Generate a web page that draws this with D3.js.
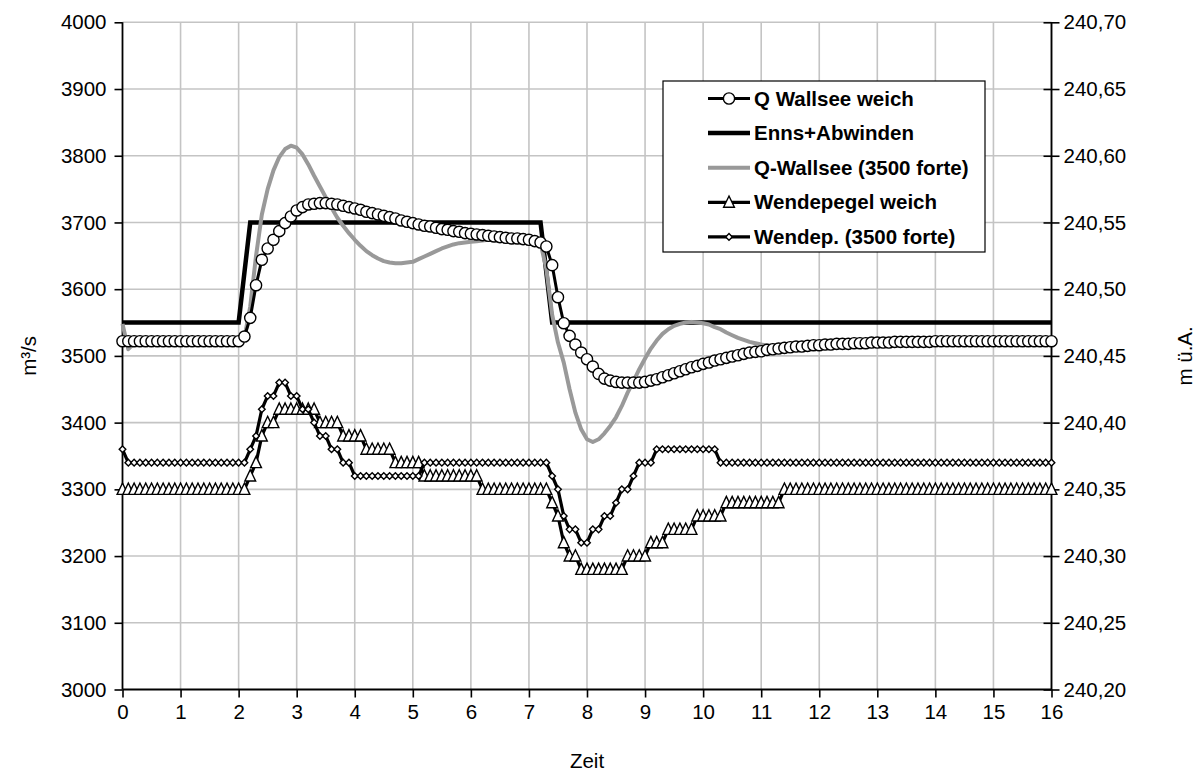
<!DOCTYPE html>
<html>
<head>
<meta charset="utf-8">
<script src="https://cdn.jsdelivr.net/npm/d3@7"></script>
<style>
  html, body { margin: 0; padding: 0; background: #fff; }
  svg { display: block; }
  text { font-family: "Liberation Sans", Arial, sans-serif; }
</style>
</head>
<body>
<div id="chart"></div>
<script>
// ---------------- DATA ----------------
const zeit = [0,0.1,0.2,0.3,0.4,0.5,0.6,0.7,0.8,0.9,1,1.1,1.2,1.3,1.4,1.5,1.6,1.7,1.8,1.9,
  2,2.1,2.2,2.3,2.4,2.5,2.6,2.7,2.8,2.9,3,3.1,3.2,3.3,3.4,3.5,3.6,3.7,3.8,3.9,
  4,4.1,4.2,4.3,4.4,4.5,4.6,4.7,4.8,4.9,5,5.1,5.2,5.3,5.4,5.5,5.6,5.7,5.8,5.9,
  6,6.1,6.2,6.3,6.4,6.5,6.6,6.7,6.8,6.9,7,7.1,7.2,7.3,7.4,7.5,7.6,7.7,7.8,7.9,
  8,8.1,8.2,8.3,8.4,8.5,8.6,8.7,8.8,8.9,9,9.1,9.2,9.3,9.4,9.5,9.6,9.7,9.8,9.9,
  10,10.1,10.2,10.3,10.4,10.5,10.6,10.7,10.8,10.9,11,11.1,11.2,11.3,11.4,11.5,11.6,11.7,11.8,11.9,
  12,12.1,12.2,12.3,12.4,12.5,12.6,12.7,12.8,12.9,13,13.1,13.2,13.3,13.4,13.5,13.6,13.7,13.8,13.9,
  14,14.1,14.2,14.3,14.4,14.5,14.6,14.7,14.8,14.9,15,15.1,15.2,15.3,15.4,15.5,15.6,15.7,15.8,15.9,16];

// Q Wallsee weich (m³/s)
const qWallseeWeich = [
  3522,3522,3522,3522,3522,3522,3522,3522,3522,3522,3522,3522,3522,3522,3522,3522,3522,3522,3522,3522,3522,
  3529,3557,3606,3644,3661,3674,3687,3699,3709,3718,
  3723,3727,3728,3729,3729,3728,3727,3725,3723,3721,
  3719,3716,3714,3712,3710,3708,3706,3703,3701,3699,
  3697,3695,3694,3692,3690,3689,3687,3686,3684,3683,
  3682,3681,3680,3679,3678,3677,3676,3676,3675,3674,
  3672,3670,3664,3636,3588,3549,3530,3517,3505,3495,
  3484,3473,3466,3463,3461,3460,3460,3460,3460,3461,
  3463,3465,3468,3471,3474,3477,3480,3483,3485,3488,
  3490,3493,3495,3497,3499,3501,3503,3505,3506,3507,
  3509,3510,3511,3512,3513,3514,3514,3515,3516,3516,
  3517,3517,3518,3518,3518,3519,3519,3519,3520,3520,
  3520,3520,3521,3521,3521,3521,3521,3521,3521,3522,
  3522,3522,3522,3522,3522,3522,3522,3522,3522,3522,3522,3522,3522,3522,3522,3522,3522,3522,3522,3522];

// Enns+Abwinden (m³/s)
const ennsAbwinden = [
  3550,3550,3550,3550,3550,3550,3550,3550,3550,3550,3550,3550,3550,3550,3550,3550,3550,3550,3550,3550,3550,
  3625,
  3700,3700,3700,3700,3700,3700,3700,3700,3700,3700,3700,3700,3700,3700,3700,3700,3700,3700,3700,3700,
  3700,3700,3700,3700,3700,3700,3700,3700,3700,3700,3700,3700,3700,3700,3700,3700,3700,3700,3700,3700,
  3700,3700,3700,3700,3700,3700,3700,3700,3700,3700,3700,
  3625,
  3550,3550,3550,3550,3550,3550,3550,3550,3550,3550,3550,3550,3550,3550,3550,3550,3550,3550,3550,3550,
  3550,3550,3550,3550,3550,3550,3550,3550,3550,3550,3550,3550,3550,3550,3550,3550,3550,3550,3550,3550,
  3550,3550,3550,3550,3550,3550,3550,3550,3550,3550,3550,3550,3550,3550,3550,3550,3550,3550,3550,3550,
  3550,3550,3550,3550,3550,3550,3550,3550,3550,3550,3550,3550,3550,3550,3550,3550,3550,3550,3550,3550,
  3550,3550,3550,3550,3550,3550,3550];

// Q-Wallsee (3500 forte) (m³/s)
const qWallseeForte = [
  3548,3510,3519,3522,3522,3522,3522,3522,3522,3522,3522,3522,3522,3522,3522,3522,3522,3522,3522,3522,3522,
  3527,3574,3650,3712,3750,3778,3798,3810,3815,3812,
  3802,3787,3770,3754,3738,3722,3707,3695,3684,3674,
  3665,3657,3651,3646,3642,3640,3639,3639,3640,3641,
  3645,3649,3653,3657,3661,3664,3667,3669,3670,3671,
  3672,3673,3674,3674,3674,3674,3674,3673,3673,3672,
  3671,3669,3630,3562,3520,3490,3450,3415,3390,3375,
  3371,3375,3384,3395,3408,3425,3445,3462,3480,3496,
  3511,3523,3533,3540,3545,3548,3550,3551,3550,3549,
  3547,3543,3540,3535,3531,3527,3524,3521,3519,3517,
  3516,3515,3514,3514,3514,3515,3515,3515,3516,3516,
  3517,3517,3518,3518,3518,3519,3519,3519,3520,3520,
  3520,3520,3521,3521,3521,3521,3521,3521,3521,3522,
  3522,3522,3522,3522,3522,3522,3522,3522,3522,3522,3522,3522,3522,3522,3522,3522,3522,3522,3522,3522];

// Wendepegel weich (m ü.A., secondary axis)
const wendepegelWeich = [
  240.35,240.35,240.35,240.35,240.35,240.35,240.35,240.35,240.35,240.35,240.35,
  240.35,240.35,240.35,240.35,240.35,240.35,240.35,240.35,240.35,240.35,240.35,
  240.36,240.37,240.39,240.40,240.40,
  240.41,240.41,240.41,240.41,240.41,240.41,240.41,
  240.40,240.40,240.40,240.40,
  240.39,240.39,240.39,240.39,
  240.38,240.38,240.38,240.38,240.38,
  240.37,240.37,240.37,240.37,240.37,
  240.36,240.36,240.36,240.36,240.36,240.36,240.36,240.36,240.36,240.36,
  240.35,240.35,240.35,240.35,240.35,240.35,240.35,240.35,240.35,240.35,240.35,240.35,
  240.34,240.33,240.31,240.30,240.30,
  240.29,240.29,240.29,240.29,240.29,240.29,240.29,240.29,
  240.30,240.30,240.30,240.30,
  240.31,240.31,240.31,
  240.32,240.32,240.32,240.32,240.32,
  240.33,240.33,240.33,240.33,240.33,
  240.34,240.34,240.34,240.34,240.34,240.34,240.34,240.34,240.34,240.34,
  240.35,240.35,240.35,240.35,240.35,240.35,240.35,240.35,240.35,240.35,
  240.35,240.35,240.35,240.35,240.35,240.35,240.35,240.35,240.35,240.35,
  240.35,240.35,240.35,240.35,240.35,240.35,240.35,240.35,240.35,240.35,
  240.35,240.35,240.35,240.35,240.35,240.35,240.35,240.35,240.35,240.35,
  240.35,240.35,240.35,240.35,240.35,240.35,240.35];

// Wendep. (3500 forte) (m ü.A., secondary axis)
const wendepForte = [
  240.38,
  240.37,240.37,240.37,240.37,240.37,240.37,240.37,240.37,240.37,240.37,
  240.37,240.37,240.37,240.37,240.37,240.37,240.37,240.37,240.37,240.37,240.37,
  240.38,240.39,240.41,240.42,240.42,240.43,240.43,240.42,240.42,240.41,
  240.41,240.40,240.39,240.39,240.38,240.38,240.37,240.37,
  240.36,240.36,240.36,240.36,240.36,240.36,240.36,240.36,240.36,240.36,240.36,240.36,
  240.37,240.37,240.37,240.37,240.37,240.37,240.37,240.37,240.37,240.37,240.37,
  240.37,240.37,240.37,240.37,240.37,240.37,240.37,240.37,240.37,240.37,240.37,
  240.36,240.35,240.33,240.32,240.32,240.31,240.31,240.32,240.32,240.33,
  240.33,240.34,240.35,240.35,240.36,
  240.37,240.37,240.37,
  240.38,240.38,240.38,240.38,240.38,240.38,240.38,240.38,240.38,240.38,240.38,
  240.37,240.37,240.37,240.37,240.37,240.37,240.37,240.37,240.37,240.37,
  240.37,240.37,240.37,240.37,240.37,240.37,240.37,240.37,240.37,240.37,
  240.37,240.37,240.37,240.37,240.37,240.37,240.37,240.37,240.37,240.37,
  240.37,240.37,240.37,240.37,240.37,240.37,240.37,240.37,240.37,240.37,
  240.37,240.37,240.37,240.37,240.37,240.37,240.37,240.37,240.37,240.37,
  240.37,240.37,240.37,240.37,240.37,240.37,240.37,240.37];

const xTicks = [0,1,2,3,4,5,6,7,8,9,10,11,12,13,14,15,16];
const yTicks = [3000,3100,3200,3300,3400,3500,3600,3700,3800,3900,4000];
const y2Ticks = [240.20,240.25,240.30,240.35,240.40,240.45,240.50,240.55,240.60,240.65,240.70];
const legendLabels = ["Q Wallsee weich","Enns+Abwinden","Q-Wallsee (3500 forte)","Wendepegel weich","Wendep. (3500 forte)"];
const xTitle = "Zeit", yTitle = "m³/s", y2Title = "m ü.A.";

// ---------------- CHART ----------------
const W = 1201, H = 776;
const FS = 20.5;
const plot = { left: 122.5, right: 1051.5, top: 22.3, bottom: 689.5 };

const svg = d3.select("#chart").append("svg").attr("width", W).attr("height", H);

const x = d3.scaleLinear().domain([0, 16]).range([plot.left, plot.right]);
const y = d3.scaleLinear().domain([3000, 4000]).range([plot.bottom, plot.top]);
const y2 = d3.scaleLinear().domain([240.20, 240.70]).range([plot.bottom, plot.top]);

// gridlines
const grid = svg.append("g");
grid.selectAll("line.v").data(xTicks.slice(1)).join("line")
  .attr("x1", d => x(d)).attr("x2", d => x(d))
  .attr("y1", plot.top).attr("y2", plot.bottom)
  .attr("stroke", "#c4c4c4").attr("stroke-width", 1.6);
grid.selectAll("line.h").data(yTicks.slice(1)).join("line")
  .attr("x1", plot.left).attr("x2", plot.right)
  .attr("y1", d => y(d)).attr("y2", d => y(d))
  .attr("stroke", "#c4c4c4").attr("stroke-width", 1.6);

const fmtComma = d => d3.format(".2f")(d).replace(".", ",");

// axes
const axL = svg.append("g").attr("transform", `translate(${plot.left},0)`)
  .call(d3.axisLeft(y).tickValues(yTicks).tickSize(8).tickPadding(8).tickFormat(d3.format("d")));
const axR = svg.append("g").attr("transform", `translate(${plot.right},0)`)
  .call(d3.axisRight(y2).tickValues(y2Ticks).tickSize(8).tickPadding(4).tickFormat(fmtComma));
axR.selectAll(".tick line").attr("x1", -8).attr("x2", 8);
const axB = svg.append("g").attr("transform", `translate(0,${plot.bottom})`)
  .call(d3.axisBottom(x).tickValues(xTicks).tickSize(8).tickPadding(7).tickFormat(d3.format("d")));

[axL, axR, axB].forEach(a => {
  a.select(".domain").attr("stroke", "#000").attr("stroke-width", 1.8);
  a.selectAll(".tick line").attr("stroke", "#000").attr("stroke-width", 1.6);
  a.selectAll(".tick text").attr("font-size", FS).attr("fill", "#000")
    .attr("font-family", '"Liberation Sans", Arial, sans-serif');
});
axL.select(".domain").attr("d", `M0,${plot.top}V${plot.bottom}`);
axR.select(".domain").attr("d", `M0,${plot.top}V${plot.bottom}`);
axB.select(".domain").attr("d", `M${plot.left},0H${plot.right}`);

// axis titles
svg.append("text").attr("x", (plot.left + plot.right) / 2).attr("y", 768)
  .attr("text-anchor", "middle").attr("font-size", FS).text(xTitle);
svg.append("text").attr("transform", `translate(36,${(plot.top + plot.bottom) / 2}) rotate(-90)`)
  .attr("text-anchor", "middle").attr("font-size", FS).text(yTitle);
svg.append("text").attr("transform", `translate(1192,${(plot.top + plot.bottom) / 2}) rotate(-90)`)
  .attr("text-anchor", "middle").attr("font-size", FS).text(y2Title);

// series
const lineL = vals => d3.line().x((d, i) => x(zeit[i])).y(d => y(d))(vals);
const lineR = vals => d3.line().x((d, i) => x(zeit[i])).y(d => y2(d))(vals);

const gS = svg.append("g");
gS.append("path").attr("d", lineL(ennsAbwinden)).attr("fill", "none")
  .attr("stroke", "#000").attr("stroke-width", 4.5).attr("stroke-linejoin", "miter");
gS.append("path").attr("d", lineL(qWallseeForte)).attr("fill", "none")
  .attr("stroke", "#999999").attr("stroke-width", 4).attr("stroke-linejoin", "round");
gS.append("path").attr("d", lineL(qWallseeWeich)).attr("fill", "none")
  .attr("stroke", "#000").attr("stroke-width", 3);
gS.append("g").selectAll("circle").data(qWallseeWeich).join("circle")
  .attr("cx", (d, i) => x(zeit[i])).attr("cy", d => y(d)).attr("r", 5.6)
  .attr("fill", "#fff").attr("stroke", "#000").attr("stroke-width", 1.4);

const triPath = "M0,-6.3L5.4,5L-5.4,5Z";
const diaPath = "M0,-3.3L3.3,0L0,3.3L-3.3,0Z";

gS.append("path").attr("d", lineR(wendepegelWeich)).attr("fill", "none")
  .attr("stroke", "#000").attr("stroke-width", 3.2);
gS.append("g").selectAll("path").data(wendepegelWeich).join("path")
  .attr("transform", (d, i) => `translate(${x(zeit[i])},${y2(d)})`).attr("d", triPath)
  .attr("fill", "#fff").attr("stroke", "#000").attr("stroke-width", 1.4);

gS.append("path").attr("d", lineR(wendepForte)).attr("fill", "none")
  .attr("stroke", "#000").attr("stroke-width", 3.2);
gS.append("g").selectAll("path").data(wendepForte).join("path")
  .attr("transform", (d, i) => `translate(${x(zeit[i])},${y2(d)})`).attr("d", diaPath)
  .attr("fill", "#fff").attr("stroke", "#000").attr("stroke-width", 1.4);

// legend
const lg = svg.append("g");
lg.append("rect").attr("x", 663).attr("y", 81).attr("width", 322).attr("height", 171)
  .attr("fill", "#fff").attr("stroke", "#000").attr("stroke-width", 1.2);
const styles = [
  { stroke: "#000", w: 3, marker: "circle" },
  { stroke: "#000", w: 4.5, marker: null },
  { stroke: "#999999", w: 4, marker: null },
  { stroke: "#000", w: 3.2, marker: "tri" },
  { stroke: "#000", w: 3.2, marker: "dia" }
];
legendLabels.forEach((lab, i) => {
  const cy = 98.5 + i * 34.6;
  const s = styles[i];
  lg.append("line").attr("x1", 708).attr("x2", 750).attr("y1", cy).attr("y2", cy)
    .attr("stroke", s.stroke).attr("stroke-width", s.w);
  if (s.marker === "circle") lg.append("circle").attr("cx", 729).attr("cy", cy).attr("r", 5.6)
    .attr("fill", "#fff").attr("stroke", "#000").attr("stroke-width", 1.4);
  if (s.marker === "tri") lg.append("path").attr("transform", `translate(729,${cy})`).attr("d", triPath)
    .attr("fill", "#fff").attr("stroke", "#000").attr("stroke-width", 1.4);
  if (s.marker === "dia") lg.append("path").attr("transform", `translate(729,${cy})`).attr("d", diaPath)
    .attr("fill", "#fff").attr("stroke", "#000").attr("stroke-width", 1.4);
  lg.append("text").attr("x", 754).attr("y", cy + 7).attr("font-size", FS).attr("font-weight", "bold")
    .text(lab);
});
</script>
</body>
</html>
